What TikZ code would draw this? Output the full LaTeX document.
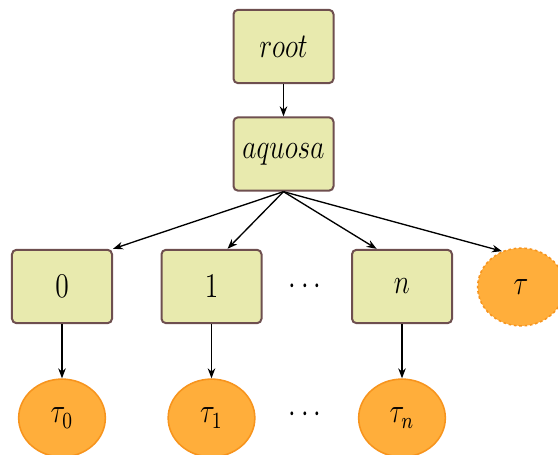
\documentclass[tikz,border=0pt]{standalone}
\usepackage{graphicx}
\usetikzlibrary{arrows.meta,shapes.geometric}
\definecolor{boxfill}{HTML}{E8EAAE}
\definecolor{boxline}{HTML}{6E4F4F}
\definecolor{leaffill}{HTML}{FFAE3B}
\definecolor{leafline}{HTML}{F7941D}
% labels are set a little taller than wide
\newcommand{\lbl}[1]{\scalebox{1.03}[1.3]{$#1$}}
\begin{document}
\begin{tikzpicture}[x=0.45pt,y=-0.45pt,
  font=\large,
  stbox/.style={rectangle, rounded corners=2pt, draw=boxline, fill=boxfill,
    line width=0.9pt, minimum width=45pt, minimum height=33pt, inner sep=0pt},
  leaf/.style={ellipse, draw=leafline, fill=leaffill, line width=0.7pt,
    minimum width=39pt, minimum height=35pt, inner sep=0pt},
  openleaf/.style={leaf, dashed, dash pattern=on 1.2pt off 1.2pt},
  link/.style={-{Stealth[length=4.5pt,width=3.4pt]}, line width=0.6pt}]
\useasboundingbox (0,0) rectangle (558,455);

% states
\node[stbox] (root) at (283.5,46.5) {\lbl{root}};
\node[stbox] (aq) at (283.5,154) {\lbl{aquosa}};
\node[stbox] (c0) at (62,286.5) {\lbl{0}};
\node[stbox] (c1) at (211.5,286.5) {\lbl{1}};
\node[stbox] (cn) at (402,286.5) {\lbl{n}};
\node[openleaf] (tau) at (521,287) {\lbl{\tau}};
\node (dots1) at (305,287) {\lbl{\cdots}};

% leaves
\node[leaf] (t0) at (62,418) {\lbl{\tau_0}};
\node[leaf] (t1) at (211.5,418) {\lbl{\tau_1}};
\node[leaf] (tn) at (402,418) {\lbl{\tau_n}};
\node (dots2) at (305,415) {\lbl{\cdots}};

% connectors
\draw[link] (root) -- (aq);
\draw[link] (aq.south) -- (c0.north east);
\draw[link] (aq.south) -- (c1.67);
\draw[link] (aq.south) -- (cn.124);
\draw[link] (aq.south) -- (tau.118);
\draw[link] (c0) -- (t0);
\draw[link] (c1) -- (t1);
\draw[link] (cn) -- (tn);
\end{tikzpicture}
\end{document}
